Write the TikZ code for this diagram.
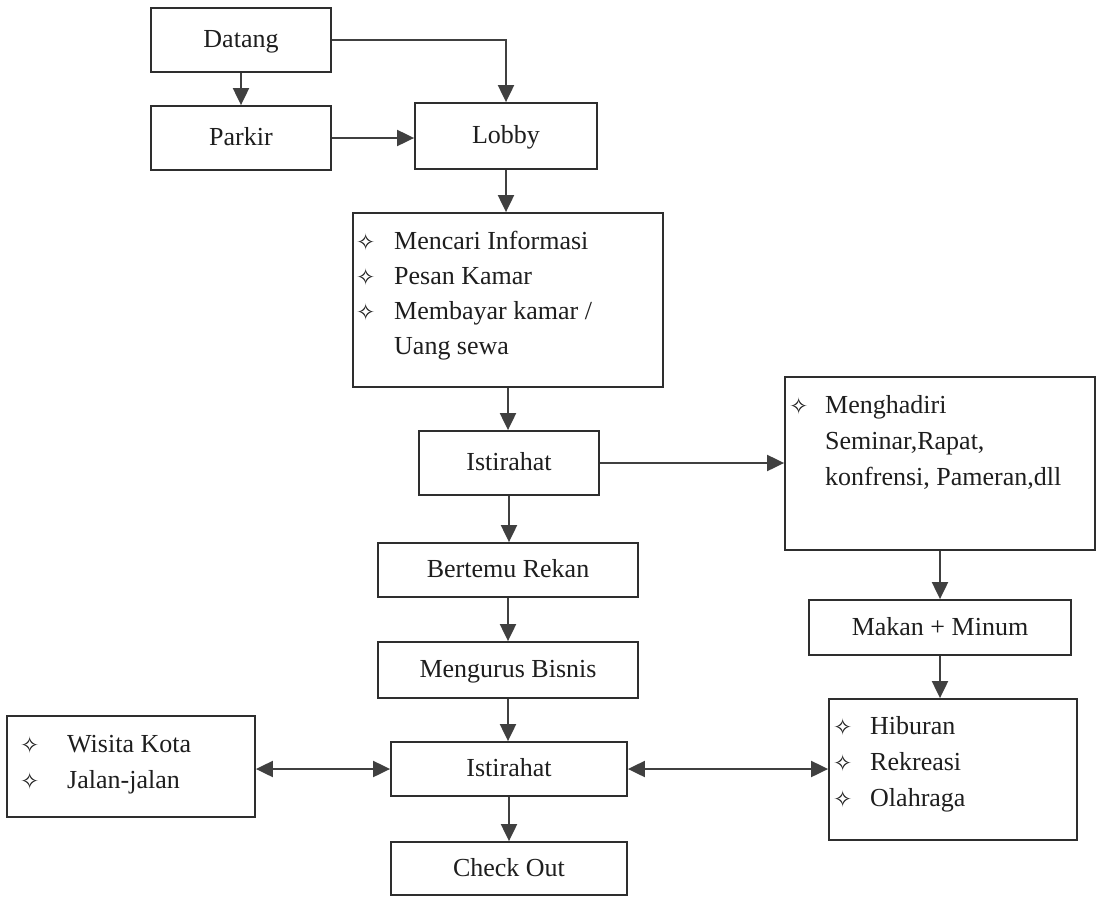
\documentclass[tikz,border=0pt]{standalone}
\usepackage{fontspec}
\setmainfont{Liberation Serif}
\newfontfamily\symfont{DejaVu Sans}
\usetikzlibrary{arrows.meta}
\definecolor{ink}{HTML}{1E1E1E}
\definecolor{edge}{HTML}{2E2E2E}
\definecolor{wire}{HTML}{404040}
% bullet column: outlined four-pointed star, then the item text
\newlength\bulw
\newcommand\bul{\makebox[\bulw][l]{\hspace*{-2pt}\raisebox{-1.5pt}{\symfont\fontsize{23}{23}\selectfont\char"2727}}}
\newcommand\cont{\hspace*{\bulw}}

\begin{document}
\begin{tikzpicture}[x=1pt,y=-1pt,
  box/.style={draw=edge, line width=1.8pt, inner sep=0pt, text=ink,
              font=\fontsize{26}{30}\selectfont, text height=19pt, text depth=4pt},
  list/.style={anchor=base west, inner sep=0pt, text=ink},
  flow/.style={draw=wire, line width=2pt, -{Triangle[length=17pt,width=16pt]}},
  both/.style={draw=wire, line width=2pt,
               {Triangle[length=17pt,width=16pt]}-{Triangle[length=17pt,width=16pt]}}]
\useasboundingbox[fill=white] (0,0) rectangle (1100,897);

% arrival
\node[box, minimum width=180pt, minimum height=64pt] (datang) at (241,40) {Datang};
\node[box, minimum width=180pt, minimum height=64pt] (parkir) at (241,138) {Parkir};
\node[box, minimum width=182pt, minimum height=66pt] (lobby)  at (506,136) {Lobby};

% front desk
\node[box, minimum width=310pt, minimum height=174pt] (mencari) at (508,300) {};
\node[list] (mencaritxt) at (358,249) {\setlength\bulw{36pt}\fontsize{26}{35}\selectfont
  \begin{tabular}[t]{@{}l@{}}\bul Mencari Informasi\\ \bul Pesan Kamar\\
  \bul Membayar kamar /\\ \cont Uang sewa\end{tabular}};

% main column
\node[box, minimum width=180pt, minimum height=64pt] (ist1)     at (509,463) {Istirahat};
\node[box, minimum width=260pt, minimum height=54pt] (bertemu)  at (508,570) {Bertemu Rekan};
\node[box, minimum width=260pt, minimum height=56pt] (mengurus) at (508,670) {Mengurus Bisnis};
\node[box, minimum width=236pt, minimum height=54pt] (ist2)     at (509,769) {Istirahat};
\node[box, minimum width=236pt, minimum height=53pt] (checkout) at (509,868.5) {Check Out};

% left branch
\node[box, minimum width=248pt, minimum height=101pt] (wisita) at (131,766.5) {};
\node[list] (wisitatxt) at (22,752) {\setlength\bulw{45pt}\fontsize{26}{36}\selectfont
  \begin{tabular}[t]{@{}l@{}}\bul Wisita Kota\\ \bul Jalan-jalan\end{tabular}};

% right branch
\node[box, minimum width=310pt, minimum height=173pt] (hadir) at (940,463.5) {};
\node[list] (hadirtxt) at (791,413) {\setlength\bulw{34pt}\fontsize{26}{36}\selectfont
  \begin{tabular}[t]{@{}l@{}}\bul Menghadiri\\ \cont Seminar,Rapat,\\
  \cont konfrensi, Pameran,dll\end{tabular}};
\node[box, minimum width=262pt, minimum height=55pt] (makan) at (940,627.5) {Makan + Minum};
\node[box, minimum width=248pt, minimum height=141pt] (hiburan) at (953,769.5) {};
\node[list] (hiburantxt) at (835,734) {\setlength\bulw{35pt}\fontsize{26}{36}\selectfont
  \begin{tabular}[t]{@{}l@{}}\bul Hiburan\\ \bul Rekreasi\\ \bul Olahraga\end{tabular}};

% connectors
\draw[flow] (datang) -- (parkir);
\draw[flow] (datang.east) -| (lobby.north);
\draw[flow] (parkir.east) -- (parkir.east -| lobby.west);
\draw[flow] (lobby.south) -- (lobby.south |- mencari.north);
\draw[flow] (mencari.south) -- (mencari.south |- ist1.north);
\draw[flow] (ist1.east) -- (ist1.east -| hadir.west);
\draw[flow] (ist1.south) -- (ist1.south |- bertemu.north);
\draw[flow] (bertemu.south) -- (bertemu.south |- mengurus.north);
\draw[flow] (mengurus.south) -- (mengurus.south |- ist2.north);
\draw[flow] (ist2.south) -- (ist2.south |- checkout.north);
\draw[flow] (hadir.south) -- (hadir.south |- makan.north);
\draw[flow] (makan.south) -- (makan.south |- hiburan.north);
\draw[both] (ist2.west) -- (ist2.west -| wisita.east);
\draw[both] (ist2.east) -- (ist2.east -| hiburan.west);
\end{tikzpicture}
\end{document}
